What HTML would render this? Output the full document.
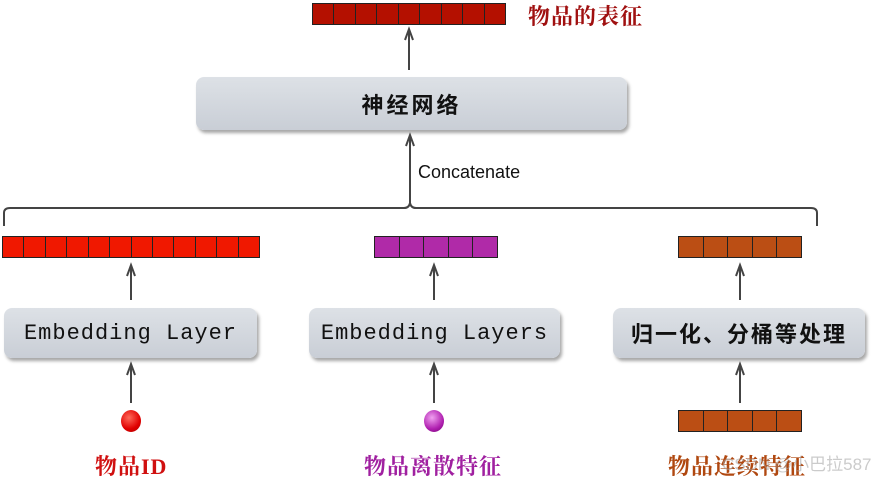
<!DOCTYPE html>
<html><head><meta charset="utf-8"><style>
body{margin:0;width:871px;height:475px;background:#fff;position:relative;overflow:hidden;font-family:"Liberation Mono","Noto Sans CJK SC",monospace}
.bar{position:absolute;display:flex;border:1.5px solid #222;box-sizing:border-box;height:22px}
.bar div{flex:1;border-right:1px solid #222}
.bar div:last-child{border-right:none}
.box{position:absolute;border-radius:8px;background:linear-gradient(#dde1e6,#c9ced6);box-shadow:2px 3px 3px rgba(0,0,0,.35);display:flex;align-items:center;justify-content:center;font-size:22px;color:#111;letter-spacing:1px}
.lab{position:absolute;font-family:"Liberation Serif","Noto Serif CJK SC",serif;font-size:22px;letter-spacing:1px;font-weight:bold;white-space:nowrap}
.dot{position:absolute;width:20px;height:22px;border-radius:50%}
</style></head><body>
<div class="bar" style="left:312px;top:3px;width:194px;background:#b41000"><div></div><div></div><div></div><div></div><div></div><div></div><div></div><div></div><div></div></div>
<div class="lab" style="left:528px;top:0px;color:#a01010">物品的表征</div>
<div class="box" style="left:196px;top:77px;width:431px;height:53px;font-family:'Liberation Sans','Noto Sans CJK SC',sans-serif;font-size:22px;letter-spacing:3px;font-weight:bold">神经网络</div>
<div style="position:absolute;left:418px;top:162px;font-size:18px;font-family:'Liberation Sans',sans-serif;color:#111">Concatenate</div>
<svg width="871" height="475" style="position:absolute;left:0;top:0" fill="none" stroke="#444" stroke-width="2">
<g stroke-linejoin="miter">
<line x1="409" y1="70" x2="409" y2="30"/><path d="M405,40 L409,29 L413,40"/>
<line x1="410" y1="205" x2="410" y2="136"/><path d="M406,146 L410,135 L414,146"/>
<path d="M4,226 V213 Q4,208 10,208 H404 Q409,208 410,203 Q411,208 416,208 H811 Q817,208 817,213 V226"/>
<line x1="131" y1="300" x2="131" y2="266"/><path d="M127,276 L131,265 L135,276"/>
<line x1="434" y1="300" x2="434" y2="266"/><path d="M430,276 L434,265 L438,276"/>
<line x1="740" y1="300" x2="740" y2="266"/><path d="M736,276 L740,265 L744,276"/>
<line x1="131" y1="403" x2="131" y2="365"/><path d="M127,375 L131,364 L135,375"/>
<line x1="434" y1="403" x2="434" y2="365"/><path d="M430,375 L434,364 L438,375"/>
<line x1="740" y1="403" x2="740" y2="365"/><path d="M736,375 L740,364 L744,375"/>
</g>
</svg>
<div class="bar" style="left:2px;top:236px;width:258px;background:#f01800"><div></div><div></div><div></div><div></div><div></div><div></div><div></div><div></div><div></div><div></div><div></div><div></div></div>
<div class="bar" style="left:374px;top:236px;width:124px;background:#b02aa8"><div></div><div></div><div></div><div></div><div></div></div>
<div class="bar" style="left:678px;top:236px;width:124px;background:#bb4e14"><div></div><div></div><div></div><div></div><div></div></div>
<div class="box" style="left:4px;top:308px;width:253px;height:50px">Embedding Layer</div>
<div class="box" style="left:309px;top:308px;width:251px;height:50px">Embedding Layers</div>
<div class="box" style="left:613px;top:308px;width:252px;height:50px;font-family:'Liberation Sans','Noto Sans CJK SC',sans-serif;letter-spacing:2px;font-weight:bold">归一化、分桶等处理</div>
<div class="dot" style="left:121px;top:410px;background:radial-gradient(circle at 40% 35%,#ff6a5a,#e00000 60%,#a00)"></div>
<div class="dot" style="left:424px;top:410px;background:radial-gradient(circle at 40% 35%,#f0a0f0,#b020b0 60%,#700070)"></div>
<div class="bar" style="left:678px;top:410px;width:124px;background:#bb4e14"><div></div><div></div><div></div><div></div><div></div></div>
<div class="lab" style="left:95px;top:450px;color:#d01010">物品ID</div>
<div class="lab" style="left:364px;top:450px;color:#a020a0">物品离散特征</div>
<div class="lab" style="left:668px;top:450px;color:#b04810">物品连续特征</div>
<div style="position:absolute;left:722px;top:450px;font-size:17px;white-space:nowrap;color:rgba(160,160,160,.55);font-family:'Liberation Sans','Noto Sans CJK SC',sans-serif">CSDN @小巴拉587</div>
</body></html>
